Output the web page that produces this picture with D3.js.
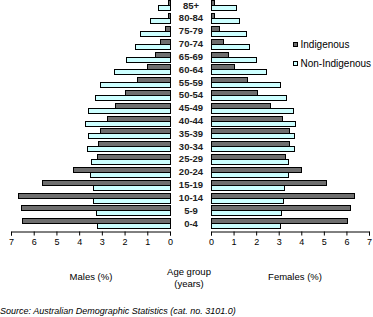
<!DOCTYPE html>
<html><head><meta charset="utf-8">
<script src="https://cdn.jsdelivr.net/npm/d3@7"></script>
<style>
html,body{margin:0;padding:0;background:#fff;}
svg{display:block;font-family:"Liberation Sans",Arial,sans-serif;}
</style></head>
<body>
<svg id="chart" width="373" height="317"></svg>
<script>
const ageGroups = ["85+","80-84","75-79","70-74","65-69","60-64","55-59","50-54","45-49","40-44","35-39","30-34","25-29","20-24","15-19","10-14","5-9","0-4"];
const series = ["Indigenous","Non-Indigenous"];
const malesIndigenous    = [0.1,0.07,0.2,0.43,0.65,1.0,1.44,1.97,2.41,2.76,3.07,3.16,3.2,4.26,5.63,6.68,6.55,6.5];
const malesNonIndigenous = [0.52,0.87,1.31,1.53,1.92,2.45,3.07,3.29,3.6,3.73,3.6,3.64,3.47,3.51,3.38,3.38,3.25,3.2];
const femalesIndigenous    = [0.15,0.15,0.37,0.55,0.77,1.04,1.61,2.05,2.63,3.16,3.47,3.47,3.29,4.0,5.1,6.35,6.17,6.04];
const femalesNonIndigenous = [1.12,1.26,1.57,1.7,2.0,2.45,3.07,3.34,3.65,3.73,3.69,3.69,3.42,3.42,3.25,3.2,3.11,3.07];
const xTicks = [0,1,2,3,4,5,6,7];
const colors = {"Indigenous":"#6e6e6e","Non-Indigenous":"#ccffff"};

const svg = d3.select("#chart");
const yC = d3.scalePoint().domain(ageGroups).range([5.2, 223.3]);
const sub = d3.scaleBand().domain(series).range([-5, 5]);
const xL = d3.scaleLinear().domain([0,7]).range([170, 11]);
const xR = d3.scaleLinear().domain([0,7]).range([211, 369]);

const males = {"Indigenous":malesIndigenous,"Non-Indigenous":malesNonIndigenous};
const females = {"Indigenous":femalesIndigenous,"Non-Indigenous":femalesNonIndigenous};

series.forEach(s => {
  svg.append("g").selectAll("rect").data(ageGroups).join("rect")
    .attr("x", (d,i) => Math.round(xL(males[s][i])) + 0.5)
    .attr("y", d => Math.round(yC(d) + sub(s)) + 0.5)
    .attr("width", (d,i) => Math.round(xL(0) - xL(males[s][i])))
    .attr("height", sub.bandwidth())
    .attr("fill", colors[s]).attr("stroke", "#000").attr("stroke-width", 1);
  svg.append("g").selectAll("rect").data(ageGroups).join("rect")
    .attr("x", xR(0) + 0.5)
    .attr("y", d => Math.round(yC(d) + sub(s)) + 0.5)
    .attr("width", (d,i) => Math.round(xR(females[s][i]) - xR(0)))
    .attr("height", sub.bandwidth())
    .attr("fill", colors[s]).attr("stroke", "#000").attr("stroke-width", 1);
});

svg.append("g").selectAll("text").data(ageGroups).join("text")
  .attr("x", 191).attr("y", d => yC(d)).attr("dy", "0.35em")
  .attr("text-anchor", "middle").attr("font-size", 9.5).attr("font-weight", "bold")
  .attr("fill", "#222")
  .text(d => d);

const axL = svg.append("g").attr("transform", "translate(0,231.5)")
  .call(d3.axisBottom(xL).tickValues(xTicks).tickFormat(d3.format("d")).tickSize(4).tickSizeOuter(4));
const axR = svg.append("g").attr("transform", "translate(0,231.5)")
  .call(d3.axisBottom(xR).tickValues(xTicks).tickFormat(d3.format("d")).tickSize(4).tickSizeOuter(4));
[axL, axR].forEach(a => {
  a.selectAll("text").attr("font-size", 9).attr("font-family", "Liberation Sans, Arial, sans-serif").attr("fill", "#000");
  a.selectAll("path,line").attr("stroke", "#000");
});

// legend
const lg = svg.append("g");
series.forEach((s, i) => {
  lg.append("rect").attr("x", 293.5).attr("y", 42.5 + i*19).attr("width", 4).attr("height", 4)
    .attr("fill", colors[s]).attr("stroke", "#000");
  lg.append("text").attr("x", 300.5).attr("y", 44.5 + i*19).attr("dy", "0.35em")
    .attr("font-size", 10).text(s);
});

const t = svg.append("g").attr("font-size", 9.5).attr("text-anchor", "middle");
t.append("text").attr("x", 91).attr("y", 277).attr("dy","0.35em").text("Males (%)");
t.append("text").attr("x", 189).attr("y", 271.5).attr("dy","0.35em").text("Age group");
t.append("text").attr("x", 189).attr("y", 283.5).attr("dy","0.35em").text("(years)");
t.append("text").attr("x", 295).attr("y", 277).attr("dy","0.35em").text("Females (%)");
svg.append("text").attr("x", 0).attr("y", 311).attr("dy","0.35em").attr("font-size", 9)
  .attr("font-style","italic").text("Source: Australian Demographic Statistics (cat. no. 3101.0)");
</script>
</body></html>
